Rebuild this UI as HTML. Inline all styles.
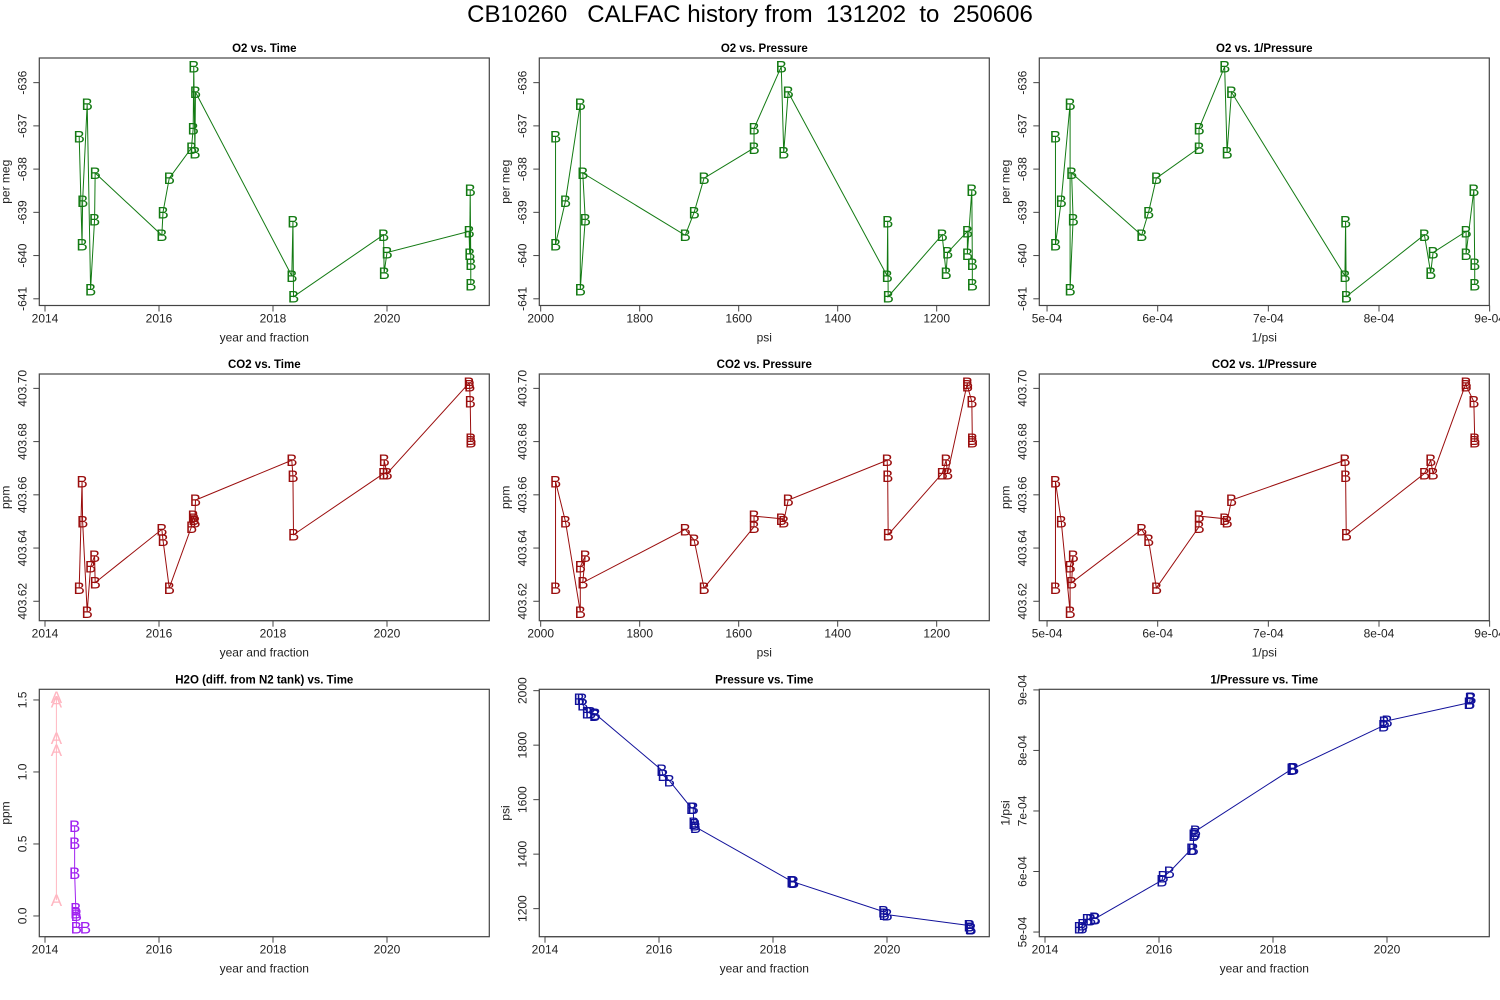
<!DOCTYPE html>
<html><head><meta charset="utf-8">
<style>
html,body{margin:0;padding:0;background:#fff;width:1500px;height:1000px;overflow:hidden}
svg{display:block;font-family:"Liberation Sans",Arial,sans-serif}
</style></head>
<body>
<svg id="chart" width="1500" height="1000" viewBox="0 0 1500 1000" xmlns="http://www.w3.org/2000/svg">
<text x="750" y="22" text-anchor="middle" font-size="24" fill="#000" xml:space="preserve">CB10260   CALFAC history from  131202  to  250606</text>
</svg>
<script>
// ---- data (one entry per sample, in measurement order) ----
const sampleTimes = [2014.60,2014.65,2014.66,2014.74,2014.80,2014.87,2014.88,2016.05,2016.07,2016.18,2016.57,2016.60,2016.61,2016.63,2016.64,2018.33,2018.35,2018.36,2019.94,2019.95,2020.00,2021.44,2021.45,2021.46,2021.47,2021.47];
const samplePressures = [1970,1970,1950,1920,1920,1910,1915,1708,1690,1670,1569,1569,1514,1509,1500,1300,1299,1298,1189,1181,1178,1138,1138,1129,1128,1128];
const o2Values = [-637.25,-639.74,-638.74,-636.49,-640.78,-639.16,-638.09,-639.53,-639.00,-638.21,-637.51,-637.06,-635.63,-637.62,-636.22,-640.47,-639.21,-640.95,-639.52,-640.40,-639.93,-639.44,-639.96,-638.48,-640.19,-640.67];
const co2Values = [403.625,403.665,403.650,403.616,403.633,403.637,403.627,403.647,403.643,403.625,403.648,403.652,403.651,403.650,403.658,403.673,403.667,403.645,403.668,403.673,403.668,403.702,403.701,403.695,403.681,403.680];
const h2oATimes = [2014.20,2014.20,2014.20,2014.20,2014.20];
const h2oAValues = [1.52,1.49,1.235,1.153,0.11];
const h2oBTimes = [2014.52,2014.52,2014.52,2014.54,2014.54,2014.55,2014.55,2014.71];
const h2oBValues = [0.625,0.505,0.297,0.053,0.023,0.007,-0.08,-0.08];
const timeTicks = [2014,2016,2018,2020];
const o2Ticks = [-636,-637,-638,-639,-640,-641];
const co2Ticks = [403.62,403.64,403.66,403.68,403.70];
const psiTicks = [2000,1800,1600,1400,1200];
const invTicks = [5e-4,6e-4,7e-4,8e-4,9e-4];
const invTickLabels = ["5e-04","6e-04","7e-04","8e-04","9e-04"];
const h2oTicks = [0,0.5,1.0,1.5];
const h2oTickLabels = ["0.0","0.5","1.0","1.5"];
const inversePressures = samplePressures.map(p => 1/p);

const NS = "http://www.w3.org/2000/svg";
const svg = document.getElementById("chart");
function mk(tag, attrs, parent){
  const e = document.createElementNS(NS, tag);
  for (const k in attrs) e.setAttribute(k, attrs[k]);
  (parent||svg).appendChild(e);
  return e;
}
function scale(d0,d1,r0,r1){ return v => r0 + (v-d0)/(d1-d0)*(r1-r0); }

const cols = [39.3, 539.3, 1039.3];
const rows = [[58,305.5],[374,620.7],[689.3,936.7]];
const W = 450;

function panel(o){
  const L = cols[o.col], R = L + W, T = rows[o.row][0], B = rows[o.row][1];
  const g = mk("g", {});
  
  
  const sx = scale(o.xd[0], o.xd[1], L, R);
  const sy = scale(o.yd[0], o.yd[1], B, T);
  const clipId = "clip-" + o.name;
  const cp = mk("clipPath", {id: clipId}, g);
  mk("rect", {x: L, y: T, width: W, height: B - T}, cp);
  const box = mk("rect", {x: L, y: T, width: W, height: B - T, fill: "none", stroke: "#444", "stroke-width": 1.2}, g);
  
  
  const title = mk("text", {x: L + W/2, y: T - 6, "text-anchor": "middle", "font-size": 11.5, "font-weight": "bold"}, g);
  title.textContent = o.title;
  
  
  const xs = o.xt.map(sx);
  mk("line", {x1: Math.min(...xs), x2: Math.max(...xs), y1: B, y2: B, stroke: "#444"}, g);
  o.xt.forEach((v, i) => {
    const x = sx(v);
    mk("line", {x1: x, x2: x, y1: B, y2: B + 6, stroke: "#444"}, g);
    const t = mk("text", {x: x, y: B + 17, "text-anchor": "middle", "font-size": 12, fill: "#222"}, g);
    t.textContent = o.xl ? o.xl[i] : String(v);
    
    
  });
  const xt = mk("text", {x: L + W/2, y: B + 36, "text-anchor": "middle", "font-size": 12, fill: "#222"}, g);
  xt.textContent = o.xlab;
  
  
  const ys = o.yt.map(sy);
  mk("line", {x1: L, x2: L, y1: Math.min(...ys), y2: Math.max(...ys), stroke: "#444"}, g);
  o.yt.forEach((v, i) => {
    const y = sy(v);
    mk("line", {x1: L - 6, x2: L, y1: y, y2: y, stroke: "#444"}, g);
    const t = mk("text", {x: 0, y: 0, "text-anchor": "middle", "font-size": 12, fill: "#222",
      transform: "translate(" + (L - 13) + "," + y + ") rotate(-90)"}, g);
    t.textContent = o.yl ? o.yl[i] : (o.yfmt ? o.yfmt(v) : String(v));
    
    
  });
  const yt = mk("text", {x: 0, y: 0, "text-anchor": "middle", "font-size": 12, fill: "#222",
    transform: "translate(" + (L - 30) + "," + ((T + B)/2) + ") rotate(-90)"}, g);
  yt.textContent = o.ylab;
  
  
  const sg = mk("g", {"clip-path": "url(#" + clipId + ")"}, g);
  o.series.forEach(s => {
    const pts = s.x.map((xv, i) => sx(xv).toFixed(2) + "," + sy(s.y[i]).toFixed(2)).join(" ");
    const line = mk("polyline", {points: pts, fill: "none", stroke: s.color, "stroke-width": 1}, sg);
    
    
    s.x.forEach((xv, i) => {
      const m = mk("text", {x: sx(xv), y: sy(s.y[i]) + 6, "text-anchor": "middle", "font-size": 17, fill: s.color}, sg);
      m.textContent = s.glyph;
      
      
    });
  });
}

const TD = [2013.9, 2021.795];
const O2D = [-641.155, -635.43];
const CO2D = [403.6127, 403.7054];
const PD = [2002.8, 1093.7];
const ID = [4.93e-4, 8.997e-4];
const GREEN = "#137a13", RED = "#9a0d0d", BLUE = "#10109a";
const co2fmt = v => v.toFixed(2);

panel({name:"o2-vs-time", col:0,row:0, xd:TD, yd:O2D, xt:timeTicks, yt:o2Ticks, title:"O2 vs. Time", xlab:"year and fraction", ylab:"per meg",
  series:[{x:sampleTimes, y:o2Values, color:GREEN, glyph:"B"}]});
panel({name:"o2-vs-pressure", col:1,row:0, xd:PD, yd:O2D, xt:psiTicks, yt:o2Ticks, title:"O2 vs. Pressure", xlab:"psi", ylab:"per meg",
  series:[{x:samplePressures, y:o2Values, color:GREEN, glyph:"B"}]});
panel({name:"o2-vs-inverse-pressure", col:2,row:0, xd:ID, yd:O2D, xt:invTicks, xl:invTickLabels, yt:o2Ticks, title:"O2 vs. 1/Pressure", xlab:"1/psi", ylab:"per meg",
  series:[{x:inversePressures, y:o2Values, color:GREEN, glyph:"B"}]});
panel({name:"co2-vs-time", col:0,row:1, xd:TD, yd:CO2D, xt:timeTicks, yt:co2Ticks, yfmt:co2fmt, title:"CO2 vs. Time", xlab:"year and fraction", ylab:"ppm",
  series:[{x:sampleTimes, y:co2Values, color:RED, glyph:"B"}]});
panel({name:"co2-vs-pressure", col:1,row:1, xd:PD, yd:CO2D, xt:psiTicks, yt:co2Ticks, yfmt:co2fmt, title:"CO2 vs. Pressure", xlab:"psi", ylab:"ppm",
  series:[{x:samplePressures, y:co2Values, color:RED, glyph:"B"}]});
panel({name:"co2-vs-inverse-pressure", col:2,row:1, xd:ID, yd:CO2D, xt:invTicks, xl:invTickLabels, yt:co2Ticks, yfmt:co2fmt, title:"CO2 vs. 1/Pressure", xlab:"1/psi", ylab:"ppm",
  series:[{x:inversePressures, y:co2Values, color:RED, glyph:"B"}]});
panel({name:"h2o-vs-time", col:0,row:2, xd:TD, yd:[-0.144,1.574], xt:timeTicks, yt:h2oTicks, yl:h2oTickLabels, title:"H2O (diff. from N2 tank) vs. Time", xlab:"year and fraction", ylab:"ppm",
  series:[{x:h2oATimes, y:h2oAValues, color:"#ffb6c1", glyph:"A"},{x:h2oBTimes, y:h2oBValues, color:"#a020f0", glyph:"B"}]});
panel({name:"pressure-vs-time", col:1,row:2, xd:TD, yd:[1097,2005], xt:timeTicks, yt:[1200,1400,1600,1800,2000], title:"Pressure vs. Time", xlab:"year and fraction", ylab:"psi",
  series:[{x:sampleTimes, y:samplePressures, color:BLUE, glyph:"B"}]});
panel({name:"inverse-pressure-vs-time", col:2,row:2, xd:TD, yd:[4.923e-4,9.01e-4], xt:timeTicks, yt:invTicks, yl:invTickLabels, title:"1/Pressure vs. Time", xlab:"year and fraction", ylab:"1/psi",
  series:[{x:sampleTimes, y:inversePressures, color:BLUE, glyph:"B"}]});
</script>
</body></html>
